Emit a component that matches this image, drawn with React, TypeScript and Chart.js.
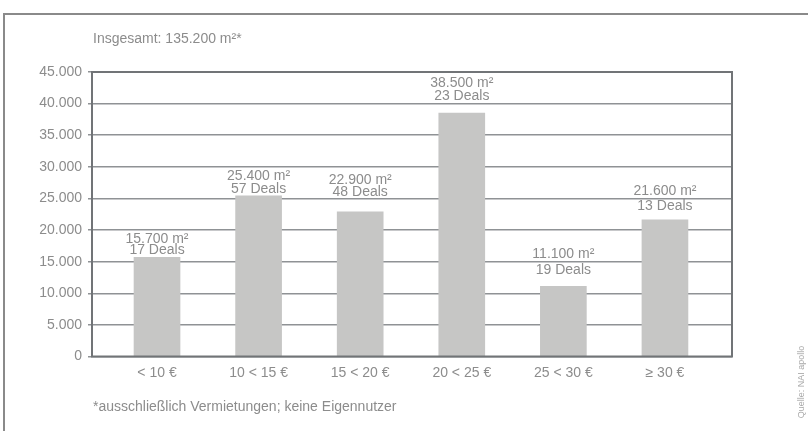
import React, { useEffect, useRef } from 'react';
import { Chart, registerables } from 'chart.js';

Chart.register(...registerables);

// Price bands (rent per m²) and the take-up per band
const categories = ['< 10 €', '10 < 15 €', '15 < 20 €', '20 < 25 €', '25 < 30 €', '≥ 30 €'];
const areaValues = [15700, 25400, 22900, 38500, 11100, 21600];
const dealCounts = [17, 57, 48, 23, 19, 13];
const yTickValues = [0, 5000, 10000, 15000, 20000, 25000, 30000, 35000, 40000, 45000];

const totalNote = 'Insgesamt';
const footnote = '*ausschließlich Vermietungen; keine Eigennutzer';
const sourceNote = 'Quelle: NAI apollo';

// Label placement above each bar: lift of the "Deals" line over the bar top, and line spacing (px)
const labelLift = [6.7, 6.7, 20, 17, 16, 14];
const labelLeading = [11, 13, 11.7, 13, 15.7, 15];

const FONT = '"Liberation Sans", Arial, Helvetica, sans-serif';
const TEXT = '#8c8c8c';
const BAR = '#c6c6c5';
const GRID = '#8f9295';
const FRAME = '#717477';

const fmt = (n: number) => String(n).replace(/\B(?=(\d{3})+(?!\d))/g, '.');

const decorations = {
  id: 'decorations',
  beforeDraw(chart: any) {
    const { ctx } = chart;
    ctx.save();
    ctx.fillStyle = '#ffffff';
    ctx.fillRect(0, 0, chart.width, chart.height);
    // outer panel border (open to the right and bottom)
    ctx.strokeStyle = '#8a8a8a';
    ctx.lineWidth = 2;
    ctx.beginPath();
    ctx.moveTo(4, chart.height);
    ctx.lineTo(4, 14);
    ctx.lineTo(chart.width, 14);
    ctx.stroke();

    const total = areaValues.reduce((a, b) => a + b, 0);
    ctx.fillStyle = TEXT;
    ctx.font = `14px ${FONT}`;
    ctx.textBaseline = 'middle';
    ctx.textAlign = 'left';
    ctx.fillText(`${totalNote}: ${fmt(total)} m²*`, 93, 39);
    ctx.fillText(footnote, 93, 407);

    ctx.translate(802, 382);
    ctx.rotate(-Math.PI / 2);
    ctx.textAlign = 'center';
    ctx.font = `9px ${FONT}`;
    ctx.fillStyle = '#a8a8a8';
    ctx.fillText(sourceNote, 0, 0);
    ctx.restore();
  },
  afterDatasetsDraw(chart: any) {
    const { ctx, chartArea } = chart;
    ctx.save();
    // plot frame
    ctx.strokeStyle = FRAME;
    ctx.lineWidth = 2;
    ctx.strokeRect(chartArea.left, chartArea.top, chartArea.right - chartArea.left, chartArea.bottom - chartArea.top);

    // value labels above bars
    const meta = chart.getDatasetMeta(0);
    ctx.fillStyle = TEXT;
    ctx.font = `14px ${FONT}`;
    ctx.textAlign = 'center';
    ctx.textBaseline = 'middle';
    meta.data.forEach((bar: any, i: number) => {
      const lower = bar.y - labelLift[i];
      const upper = lower - labelLeading[i];
      ctx.fillText(`${fmt(areaValues[i])} m²`, bar.x, upper);
      ctx.fillText(`${dealCounts[i]} Deals`, bar.x, lower);
    });
    ctx.restore();
  },
};

export default function App() {
  const canvasRef = useRef<HTMLCanvasElement | null>(null);

  useEffect(() => {
    if (!canvasRef.current) return;
    const chart = new Chart(canvasRef.current, {
      type: 'bar',
      data: {
        datasets: [
          {
            data: areaValues.map((v, i) => ({ x: i, y: v })),
            backgroundColor: BAR,
            borderWidth: 0,
            barThickness: 46,
          },
        ],
      },
      options: {
        animation: false,
        responsive: false,
        layout: { padding: { top: 72, right: 76, bottom: 44.5, left: 0 } },
        plugins: {
          legend: { display: false },
          tooltip: { enabled: false },
          title: { display: false },
        },
        scales: {
          x: {
            type: 'linear',
            offset: false,
            min: -0.64,
            max: 5.66,
            afterFit: (scale: any) => {
              scale.height = 30;
            },
            afterBuildTicks: (scale: any) => {
              scale.ticks = categories.map((_, i) => ({ value: i }));
            },
            grid: { display: false, drawTicks: false, offset: false },
            border: { display: false },
            ticks: {
              autoSkip: false,
              maxRotation: 0,
              padding: 8,
              color: TEXT,
              font: { family: FONT, size: 14 },
              callback: (v: any) => categories[Math.round(Number(v))] ?? '',
            },
          },
          y: {
            min: 0,
            max: 45000,
            afterFit: (scale: any) => {
              scale.width = 92;
            },
            afterBuildTicks: (scale: any) => {
              scale.ticks = yTickValues.map((v) => ({ value: v }));
            },
            grid: { color: GRID, lineWidth: 1.5, tickLength: 4 },
            border: { display: false },
            ticks: {
              padding: 6,
              color: TEXT,
              font: { family: FONT, size: 14 },
              callback: (v: any) => fmt(Number(v)),
            },
          },
        },
      },
      plugins: [decorations],
    });
    return () => chart.destroy();
  }, []);

  return (
    <div style={{ position: 'fixed', left: 0, top: 0, width: 808, height: 431, background: '#fff' }}>
      <canvas ref={canvasRef} width={808} height={431} style={{ display: 'block' }} />
    </div>
  );
}
